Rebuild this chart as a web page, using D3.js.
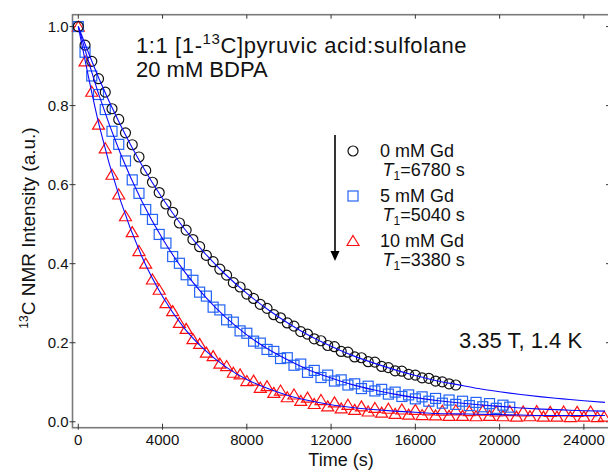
<!DOCTYPE html>
<html>
<head>
  <meta charset="utf-8">
  <title>13C NMR decay</title>
  <script src="https://d3js.org/d3.v7.min.js"></script>
  <style>
    body { margin: 0; background: #fff; }
    text { font-family: "Liberation Sans", Arial, sans-serif; fill: #111; }
  </style>
</head>
<body>
<script>
// sampling interval of the measured points (s)
var dt = 320;

// 0 mM Gd (circles)
var circleVals = [1.000, 0.953, 0.912, 0.868, 0.834, 0.792, 0.765, 0.731, 0.701, 0.670,
  0.636, 0.606, 0.580, 0.551, 0.530, 0.503, 0.485, 0.461, 0.443, 0.421,
  0.405, 0.386, 0.371, 0.352, 0.341, 0.323, 0.312, 0.297, 0.287, 0.271,
  0.263, 0.250, 0.242, 0.228, 0.222, 0.210, 0.205, 0.193, 0.190, 0.178,
  0.176, 0.164, 0.162, 0.152, 0.151, 0.140, 0.137, 0.129, 0.128, 0.120,
  0.118, 0.111, 0.110, 0.103, 0.101, 0.096, 0.093];

// 5 mM Gd (squares)
var squareVals = [1.000, 0.935, 0.875, 0.828, 0.790, 0.735, 0.702, 0.660, 0.612, 0.578,
  0.537, 0.512, 0.474, 0.452, 0.418, 0.401, 0.372, 0.358, 0.328, 0.318,
  0.290, 0.283, 0.258, 0.252, 0.230, 0.224, 0.204, 0.199, 0.183, 0.178,
  0.160, 0.162, 0.143, 0.146, 0.125, 0.130, 0.112, 0.118, 0.103, 0.106,
  0.093, 0.096, 0.084, 0.090, 0.078, 0.082, 0.070, 0.075, 0.064, 0.068,
  0.058, 0.063, 0.052, 0.059, 0.047, 0.055, 0.044, 0.052, 0.041, 0.049,
  0.038, 0.046, 0.034, 0.042, 0.037];

// 10 mM Gd (triangles)
var triangleVals = [1.000, 0.912, 0.835, 0.752, 0.692, 0.625, 0.575, 0.520, 0.480, 0.432,
  0.400, 0.360, 0.334, 0.300, 0.280, 0.250, 0.235, 0.209, 0.197, 0.175,
  0.166, 0.147, 0.141, 0.124, 0.120, 0.103, 0.104, 0.086, 0.090, 0.073,
  0.079, 0.062, 0.069, 0.053, 0.061, 0.045, 0.055, 0.039, 0.049, 0.034,
  0.043, 0.030, 0.039, 0.026, 0.035, 0.023, 0.033, 0.020, 0.031, 0.018,
  0.030, 0.017, 0.029, 0.016, 0.028, 0.015, 0.029, 0.015, 0.027, 0.014,
  0.028, 0.015, 0.026, 0.014, 0.027, 0.013, 0.026, 0.014, 0.027, 0.013,
  0.025, 0.013, 0.026, 0.012, 0.025, 0.013, 0.026, 0.012, 0.013];

// fitted curves, read every 1000 s
var fitTimes = [0, 1000, 2000, 3000, 4000, 5000, 6000, 7000, 8000, 9000, 10000, 11000, 12000,
  13000, 14000, 15000, 16000, 17000, 18000, 19000, 20000, 21000, 22000, 23000, 24000, 25000];
var fitCircle = [1.000, 0.866, 0.751, 0.651, 0.565, 0.491, 0.427, 0.372, 0.325, 0.284, 0.248, 0.217, 0.191,
  0.168, 0.149, 0.132, 0.117, 0.104, 0.094, 0.084, 0.076, 0.069, 0.063, 0.058, 0.053, 0.049];
var fitSquare = [1.000, 0.824, 0.679, 0.560, 0.463, 0.383, 0.318, 0.264, 0.220, 0.184, 0.155, 0.130, 0.111,
  0.094, 0.081, 0.070, 0.061, 0.054, 0.048, 0.043, 0.039, 0.035, 0.032, 0.030, 0.028, 0.027];
var fitTriangle = [1.000, 0.748, 0.560, 0.420, 0.317, 0.239, 0.182, 0.139, 0.107, 0.084, 0.066, 0.053, 0.043,
  0.036, 0.031, 0.027, 0.024, 0.021, 0.020, 0.019, 0.018, 0.017, 0.016, 0.016, 0.016, 0.016];

var xTicks = [0, 4000, 8000, 12000, 16000, 20000, 24000];
var yTicks = [0, 0.2, 0.4, 0.6, 0.8, 1.0];

var W = 608, H = 472;
var pLeft = 72.5, pRight = 610, pTop = 14.7, pBottom = 427.7;

var svg = d3.select('body').append('svg').attr('width', W).attr('height', H);

var x = d3.scaleLinear().domain([-275, 25240]).range([pLeft, pRight]);
var y = d3.scaleLinear().domain([-0.015, 1.03]).range([pBottom, pTop]);

var axisColor = '#7a7a7a';

// frame
svg.append('rect')
  .attr('x', pLeft).attr('y', pTop)
  .attr('width', pRight - pLeft).attr('height', pBottom - pTop)
  .attr('fill', 'none').attr('stroke', axisColor).attr('stroke-width', 1.6);

// ticks crossing the frame
var g = svg.append('g');
g.selectAll('.xt').data(xTicks).enter().append('line')
  .attr('x1', function (d) { return x(d); }).attr('x2', function (d) { return x(d); })
  .attr('y1', pBottom - 4).attr('y2', pBottom + 2)
  .attr('stroke', '#333').attr('stroke-width', 1);
g.selectAll('.xtt').data(xTicks).enter().append('line')
  .attr('x1', function (d) { return x(d); }).attr('x2', function (d) { return x(d); })
  .attr('y1', pTop).attr('y2', pTop + 4)
  .attr('stroke', '#333').attr('stroke-width', 1);
g.selectAll('.yt').data(yTicks).enter().append('line')
  .attr('x1', pLeft - 3).attr('x2', pLeft + 3)
  .attr('y1', function (d) { return y(d); }).attr('y2', function (d) { return y(d); })
  .attr('stroke', '#333').attr('stroke-width', 1);
g.selectAll('.ytr').data(yTicks).enter().append('line')
  .attr('x1', pRight - 4).attr('x2', pRight)
  .attr('y1', function (d) { return y(d); }).attr('y2', function (d) { return y(d); })
  .attr('stroke', '#333').attr('stroke-width', 1);

g.selectAll('.xl').data(xTicks).enter().append('text')
  .attr('x', function (d) { return x(d); }).attr('y', pBottom + 17.5)
  .attr('text-anchor', 'middle').style('font-size', '15px')
  .text(function (d) { return d; });
g.selectAll('.yl').data(yTicks).enter().append('text')
  .attr('x', pLeft - 4).attr('y', function (d) { return y(d) + 5.5; })
  .attr('text-anchor', 'end').style('font-size', '15px')
  .text(function (d) { return d.toFixed(1); });

// axis titles
svg.append('text').attr('x', 341).attr('y', 466)
  .attr('text-anchor', 'middle').style('font-size', '18px').text('Time (s)');
var yt = svg.append('text')
  .attr('transform', 'translate(35,228) rotate(-90)')
  .attr('text-anchor', 'middle').style('font-size', '19px');
yt.append('tspan').attr('dy', '-7').style('font-size', '12px').text('13');
yt.append('tspan').attr('dy', '7').text('C NMR Intensity (a.u.)');

// markers
var plot = svg.append('g');
var tri = 'M0,-5.5L6,4.5L-6,4.5Z';

plot.selectAll('.tri').data(triangleVals).enter().append('path')
  .attr('d', tri)
  .attr('transform', function (d, i) { return 'translate(' + x(i * dt) + ',' + y(d) + ')'; })
  .attr('fill', 'none').attr('stroke', '#ff1010').attr('stroke-width', 1.2);

plot.selectAll('.sq').data(squareVals).enter().append('rect')
  .attr('x', function (d, i) { return x(i * dt) - 5; })
  .attr('y', function (d) { return y(d) - 5; })
  .attr('width', 10).attr('height', 10)
  .attr('fill', 'none').attr('stroke', '#2463f5').attr('stroke-width', 1.2);

plot.selectAll('.ci').data(circleVals).enter().append('circle')
  .attr('cx', function (d, i) { return x(i * dt); })
  .attr('cy', function (d) { return y(d); })
  .attr('r', 5)
  .attr('fill', 'none').attr('stroke', '#111').attr('stroke-width', 1.2);

// fit lines
var line = d3.line()
  .x(function (d) { return x(d[0]); })
  .y(function (d) { return y(d[1]); })
  .curve(d3.curveMonotoneX);
[fitCircle, fitSquare, fitTriangle].forEach(function (f) {
  plot.append('path')
    .datum(fitTimes.map(function (t, i) { return [t, f[i]]; }))
    .attr('d', line)
    .attr('fill', 'none').attr('stroke', '#0a0aff').attr('stroke-width', 1.1);
});

// annotations
var t1 = svg.append('text').attr('x', 136).attr('y', 53)
  .style('font-size', '22px').style('letter-spacing', '0.6px');
t1.append('tspan').text('1:1 [1-');
t1.append('tspan').attr('dy', '-9').style('font-size', '15px').text('13');
t1.append('tspan').attr('dy', '9').text('C]pyruvic acid:sulfolane');
svg.append('text').attr('x', 136).attr('y', 77).style('font-size', '22px').text('20 mM BDPA');
svg.append('text').attr('x', 459).attr('y', 348).style('font-size', '22px').text('3.35 T, 1.4 K');

// legend with arrow
svg.append('line').attr('x1', 335).attr('x2', 335).attr('y1', 135).attr('y2', 253)
  .attr('stroke', '#000').attr('stroke-width', 1.6);
svg.append('path').attr('d', 'M330.5,251L339.5,251L335,261Z').attr('fill', '#000');

var legend = [
  { label: '0 mM Gd', t1: '=6780 s', shape: 'circle', color: '#111' },
  { label: '5 mM Gd', t1: '=5040 s', shape: 'square', color: '#2463f5' },
  { label: '10 mM Gd', t1: '=3380 s', shape: 'triangle', color: '#ff1010' }
];
legend.forEach(function (d, i) {
  var cy = 151 + i * 45;
  if (d.shape === 'circle') {
    svg.append('circle').attr('cx', 353).attr('cy', cy).attr('r', 5)
      .attr('fill', 'none').attr('stroke', d.color).attr('stroke-width', 1.2);
  } else if (d.shape === 'square') {
    svg.append('rect').attr('x', 348).attr('y', cy - 5).attr('width', 10).attr('height', 10)
      .attr('fill', 'none').attr('stroke', d.color).attr('stroke-width', 1.2);
  } else {
    svg.append('path').attr('d', tri).attr('transform', 'translate(353,' + cy + ')')
      .attr('fill', 'none').attr('stroke', d.color).attr('stroke-width', 1.2);
  }
  svg.append('text').attr('x', 380).attr('y', cy + 5.5).style('font-size', '18px').text(d.label);
  var tt = svg.append('text').attr('x', 382.5).attr('y', cy + 25).style('font-size', '18px');
  tt.append('tspan').style('font-style', 'italic').text('T');
  tt.append('tspan').attr('dy', '4').style('font-size', '12px').text('1');
  tt.append('tspan').attr('dy', '-4').text(d.t1);
});
</script>
</body>
</html>
